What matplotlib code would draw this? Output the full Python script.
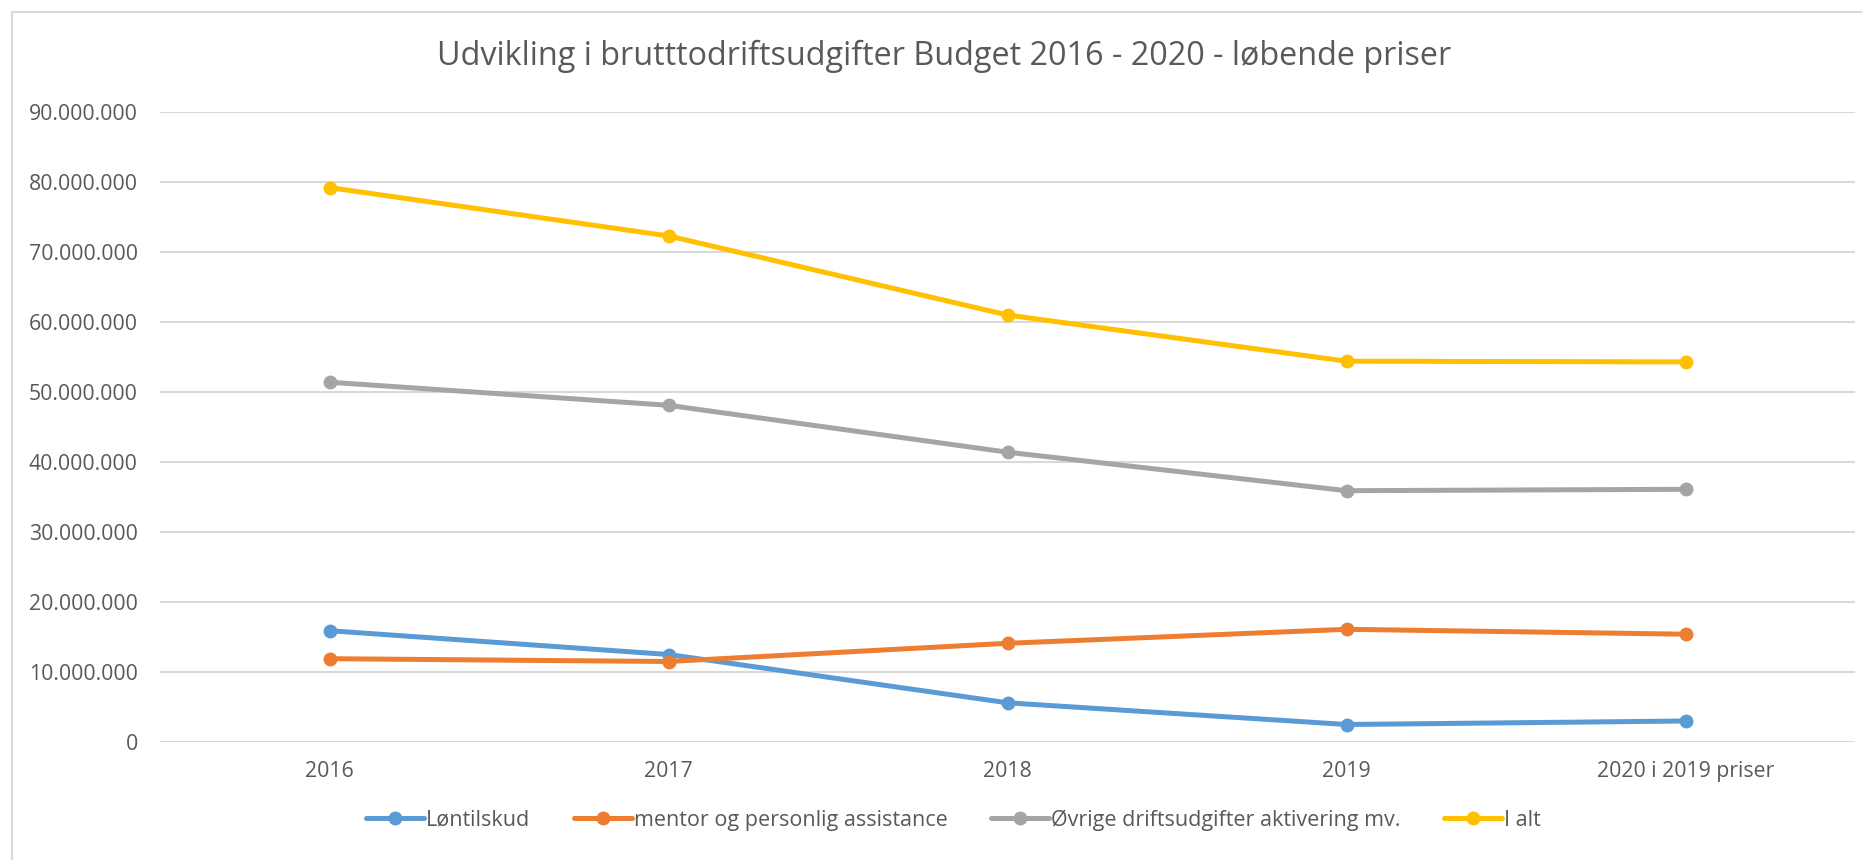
import numpy as np
import matplotlib.pyplot as plt
from matplotlib.lines import Line2D
from matplotlib.ticker import FuncFormatter

years = ['2016', '2017', '2018', '2019', '2020 i 2019 priser']
series_names = ['Løntilskud', 'mentor og personlig assistance',
                'Øvrige driftsudgifter aktivering mv.', 'I alt']
loentilskud = [15.9e6, 12.5e6, 5.6e6, 2.5e6, 3.0e6]
mentor = [11.9e6, 11.5e6, 14.1e6, 16.1e6, 15.4e6]
oevrige = [51.4e6, 48.1e6, 41.4e6, 35.9e6, 36.1e6]
i_alt = [79.2e6, 72.3e6, 61.0e6, 54.4e6, 54.3e6]
colors = ['#5B9BD5', '#ED7D31', '#A5A5A5', '#FFC000']

plt.rcParams['font.family'] = ['Open Sans', 'DejaVu Sans']
txtcol = '#595959'

fig = plt.figure(figsize=(18.62, 8.6), dpi=100)
ax = fig.add_axes([160/1862, 1-742/860, (1855-160)/1862, (742-112)/860])

x = np.arange(len(years))
for vals, name, c in zip([loentilskud, mentor, oevrige, i_alt], series_names, colors):
    ax.plot(x, vals, color=c, lw=3.6, marker='o', ms=9, label=name, solid_capstyle='round')

ax.set_xlim(-0.5, len(years)-0.5)
ax.set_ylim(0, 90e6)
ax.set_yticks(np.arange(0, 90e6+1, 10e6))
ax.yaxis.set_major_formatter(FuncFormatter(lambda v, p: '{:,.0f}'.format(v).replace(',', '.')))
ax.set_xticks(x)
ax.set_xticklabels(years)
ax.grid(axis='y', color='#D9D9D9', lw=1.5)
ax.set_axisbelow(True)
for s in ax.spines.values():
    s.set_visible(False)
ax.tick_params(length=0, labelsize=15.3, labelcolor=txtcol)
ax.tick_params(axis='y', pad=16)
ax.tick_params(axis='x', pad=14)

fig.text(0.507, 1-56/860, 'Udvikling i brutttodriftsudgifter Budget 2016 - 2020 - løbende priser',
         ha='center', va='center', fontsize=23.3, color=txtcol)

leg = fig.legend(loc='center', bbox_to_anchor=(0.512, 1-820/860), ncol=4, frameon=False,
                 fontsize=15.5, handlelength=2.7, handletextpad=0.1, columnspacing=2.0)
for t in leg.get_texts():
    t.set_color(txtcol)

# chart border (top and left visible)
fig.add_artist(Line2D([12/1862, 1], [1-12/860, 1-12/860], color='#D9D9D9', lw=1.5))
fig.add_artist(Line2D([12/1862, 12/1862], [0, 1-12/860], color='#D9D9D9', lw=1.5))

fig.savefig('out.png', dpi=100)
